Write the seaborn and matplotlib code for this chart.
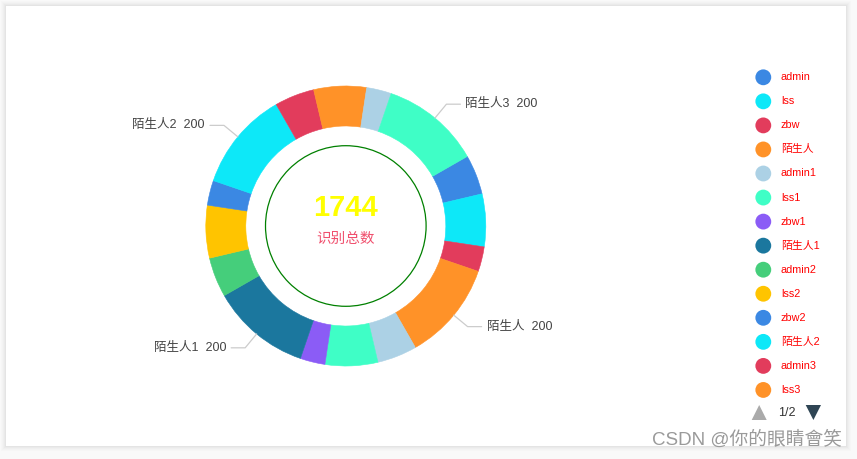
import numpy as np
import pandas as pd
import matplotlib
matplotlib.use("Agg")
import matplotlib.pyplot as plt
import matplotlib.patches as mpatches
import seaborn as sns

# ---- data ----
names = ['admin', 'lss', 'zbw', '陌生人', 'admin1', 'lss1', 'zbw1', '陌生人1',
         'admin2', 'lss2', 'zbw2', '陌生人2', 'admin3', 'lss3', 'zbw3', '陌生人3']
values = [80, 106, 50, 200, 80, 106, 50, 200, 80, 106, 50, 200, 80, 106, 50, 200]
colors = ['#3b88e3', '#0de8f8', '#e23c5c', '#ff9228', '#acd1e5', '#3ffec6',
          '#8b5cf6', '#1b779e', '#45ce7b', '#ffc400', '#3b88e3', '#0de8f8',
          '#e23c5c', '#ff9228', '#acd1e5', '#3ffec6']
total_label = '1744'
center_caption = '识别总数'
legend_visible = 14
page_text = '1/2'
watermark = 'CSDN @你的眼睛會笑'

sns.set_theme(style="white")
plt.rcParams['font.family'] = ['Liberation Sans', 'Noto Sans CJK SC', 'DejaVu Sans']

W, H = 857, 459
fig = plt.figure(figsize=(W / 100, H / 100), dpi=100, facecolor='#f9f9f9')
ax = fig.add_axes([0, 0, 1, 1])
ax.set_xlim(0, W)
ax.set_ylim(0, H)
ax.set_aspect('equal')
ax.axis('off')

def Y(py):
    return H - py

# card with soft shadow
for i, a in enumerate([0.010, 0.012, 0.015, 0.02, 0.025]):
    g = 5 - i
    ax.add_patch(mpatches.Rectangle((6 - g, Y(446) - g), 840 + 2 * g, 440 + 2 * g,
                                    facecolor='black', alpha=a, lw=0, zorder=0))
ax.add_patch(mpatches.Rectangle((6, Y(446)), 840, 440, facecolor='white', lw=0, zorder=0.5))

# donut
cx, cy = 345.8, Y(226)
R, ring = 140, 40
wedges, _ = ax.pie(values, colors=colors, startangle=29.8, counterclock=False,
                   center=(cx, cy), radius=R, frame=True,
                   wedgeprops=dict(width=ring, linewidth=0.4, antialiased=True))
for w, c in zip(wedges, colors):
    w.set_edgecolor(c)
    w.set_zorder(2)
ax.set_xlim(0, W)
ax.set_ylim(0, H)
ax.axis('off')

# labels for the large slices
for w, n, v in zip(wedges, names, values):
    if v < 150:
        continue
    mid = np.deg2rad((w.theta1 + w.theta2) / 2)
    x0, y0 = cx + R * np.cos(mid), cy + R * np.sin(mid)
    x1, y1 = cx + (R + 18) * np.cos(mid), cy + (R + 18) * np.sin(mid)
    side = 1 if np.cos(mid) >= 0 else -1
    x2 = x1 + side * 14
    ax.plot([x0, x1, x2], [y0, y1, y1], color='#cccccc', lw=0.9, zorder=3)
    ax.text(x2 + side * 5, y1, f'{n}  {v}', ha='left' if side > 0 else 'right',
            va='center', fontsize=9, color='#444444', zorder=3)

# inner circle and centre text
ax.add_patch(mpatches.Circle((cx, cy), 80.3, fill=False, edgecolor='#008000', lw=0.9, zorder=3))
ax.text(cx, Y(207.5), total_label, ha='center', va='center', fontsize=21,
        fontweight='bold', color='#ffff00', zorder=4)
ax.text(cx, Y(238.5), center_caption, ha='center', va='center', fontsize=10.5,
        color='#f0506e', zorder=4)

# legend (first page)
leg = pd.DataFrame({'name': names[:legend_visible],
                    'x': [763.3] * legend_visible,
                    'y': [Y(77.3 + 24.05 * i) for i in range(legend_visible)]})
sns.scatterplot(data=leg, x='x', y='y', hue='name', palette=colors[:legend_visible],
                s=130, linewidth=0, legend=False, ax=ax, zorder=4)
for _, r in leg.iterrows():
    ax.text(781, r['y'], r['name'], ha='left', va='center', fontsize=7.8,
            color='#ff0000', zorder=4)
ax.set_xlabel('')
ax.set_ylabel('')

# pager
ax.add_patch(mpatches.Polygon([[751.7, Y(420)], [766.7, Y(420)], [759.2, Y(405)]],
                              closed=True, facecolor='#aaaaaa', lw=0, zorder=4))
ax.text(786.5, Y(412.5), page_text, ha='center', va='center', fontsize=9,
        color='#333333', zorder=4)
ax.add_patch(mpatches.Polygon([[805.7, Y(405)], [821, Y(405)], [813.4, Y(420)]],
                              closed=True, facecolor='#2f4554', lw=0, zorder=4))

# watermark
ax.text(842, Y(440), watermark, ha='right', va='center', fontsize=13.5,
        color='#9a9a9a', zorder=5)

fig.savefig('out.png', dpi=100, facecolor=fig.get_facecolor())
